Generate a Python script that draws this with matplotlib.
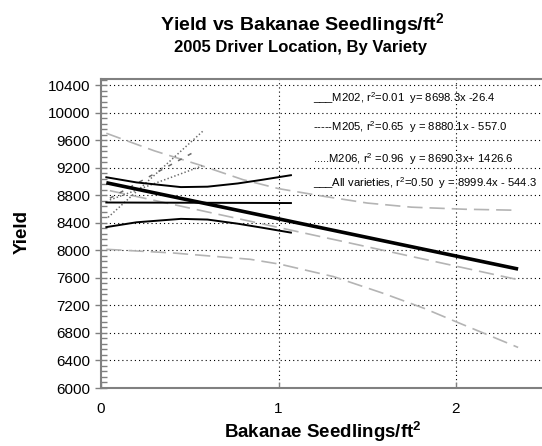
import matplotlib
matplotlib.use('Agg')
import matplotlib.pyplot as plt
from matplotlib.ticker import MultipleLocator

plt.rcParams['font.family'] = ['Liberation Sans', 'DejaVu Sans']
plt.rcParams['mathtext.fontset'] = 'custom'
plt.rcParams['mathtext.rm'] = 'Liberation Sans'
plt.rcParams['mathtext.default'] = 'regular'
plt.rcParams['lines.scale_dashes'] = False

# all varieties regression
all_x = [0.03, 2.35]
all_y = [8985, 7730]

# M202 regression and its bands
m202_x = [0.03, 1.07]
m202_y = [8698, 8690]
m202_band_x = [0.03, 0.2, 0.45, 0.6, 0.77, 0.9, 1.07]
m202_hi_y = [9065, 8990, 8922, 8928, 8975, 9025, 9095]
m202_lo_y = [8340, 8410, 8460, 8450, 8390, 8335, 8260]

# M205 regression and its bands
m205_x = [0.05, 2.35]
m205_y = [8870, 7575]
m205_hi_x = [0.03, 0.3, 0.56, 0.8, 1.0, 1.25, 1.5, 1.75, 2.05, 2.35]
m205_hi_y = [9705, 9450, 9240, 9030, 8900, 8790, 8690, 8630, 8600, 8585]
m205_lo_x = [0.03, 0.4, 0.84, 1.01, 1.31, 1.59, 1.82, 2.0, 2.35]
m205_lo_y = [8017, 7965, 7872, 7800, 7620, 7377, 7159, 6964, 6590]

# M206 regression and its bands
m206_x = [0.05, 0.53]
m206_y = [8760, 9440]
m206_a_x = [0.04, 0.576]
m206_a_y = [8482, 9741]
m206_b_x = [0.05, 0.57]
m206_b_y = [8735, 9230]

legend_lines = [
    '___M202, r$^2$=0.01  y= 8698.3x -26.4',
    '-----M205, r$^2$=0.65  y = 8880.1x - 557.0',
    '.....M206, r$^2$ =0.96  y = 8690.3x+ 1426.6',
    '___All varieties, r$^2$=0.50  y = 8999.4x - 544.3',
]
legend_base_px = [102, 131, 163, 187]

W, H = 542, 446
fig = plt.figure(figsize=(W / 100, H / 100), dpi=100)
ax = fig.add_axes([101 / W, 1 - 388 / H, 2.5 * 177.5 / W, 309.4 / H])

gray = '#b4b4b4'
dgray = '#6a6a6a'
long_dash = (0, (11, 5))

ax.plot(m205_hi_x, m205_hi_y, color=gray, lw=1.2, ls=long_dash)
ax.plot(m205_lo_x, m205_lo_y, color=gray, lw=1.2, ls=long_dash)
ax.plot(m205_x, m205_y, color=gray, lw=1.2, ls=long_dash)

ax.plot(m206_a_x, m206_a_y, color=dgray, lw=1.1, ls=(0, (1, 1.6)))
ax.plot(m206_b_x, m206_b_y, color=dgray, lw=1.1, ls=(0, (1, 1.6)))
ax.plot(m206_x, m206_y, color=dgray, lw=1.1, ls=(0, (3, 5)))

ax.plot(m202_band_x, m202_hi_y, color='black', lw=1.4)
ax.plot(m202_band_x, m202_lo_y, color='black', lw=1.4)
ax.plot(m202_x, m202_y, color='black', lw=1.4)

ax.plot(all_x, all_y, color='black', lw=2.6, solid_capstyle='butt')

ax.set_xlim(0, 2.5)
ax.set_ylim(6000, 10500)
ax.set_xticks([0, 1, 2])
ax.yaxis.set_major_locator(MultipleLocator(400))
ax.yaxis.set_minor_locator(MultipleLocator(80))
ax.set_yticks(range(6000, 10401, 400))

for y in range(6400, 10401, 400):
    ax.axhline(y, color='black', lw=0.8, ls=(0, (0.8, 2.2)), zorder=0)
for x in [1, 2]:
    ax.axvline(x, color='black', lw=0.8, ls=(0, (0.8, 2.2)), zorder=0)

for side in ['left', 'bottom', 'top']:
    ax.spines[side].set_color('#808080')
    ax.spines[side].set_linewidth(1.5)
ax.spines['right'].set_visible(False)

ax.tick_params(axis='y', which='major', direction='inout', length=8, width=1,
               color='#808080', labelsize=11, pad=4)
ax.tick_params(axis='y', which='minor', direction='in', length=4, width=1,
               color='#808080')
ax.tick_params(axis='x', which='major', direction='in', length=4, width=1,
               color='#808080', labelsize=11, pad=10)

for txt, yb in zip(legend_lines, legend_base_px):
    fig.text(313 / W, 1 - yb / H, txt, fontsize=8.1, va='baseline', ha='left')

fig.text(302 / W, 1 - 30.5 / H, 'Yield vs Bakanae Seedlings/ft$^2$',
         fontsize=14, fontweight='bold', ha='center', va='baseline')
fig.text(301 / W, 1 - 52 / H, '2005 Driver Location, By Variety',
         fontsize=12, fontweight='bold', ha='center', va='baseline')
fig.text(323 / W, 1 - 432 / H, 'Bakanae Seedlings/ft$^2$',
         fontsize=13.5, fontweight='bold', ha='center', va='center')
fig.text(22 / W, 1 - 232 / H, 'Yield', fontsize=13.5, fontweight='bold',
         rotation=90, ha='center', va='center')

fig.savefig('out.png', dpi=100)
